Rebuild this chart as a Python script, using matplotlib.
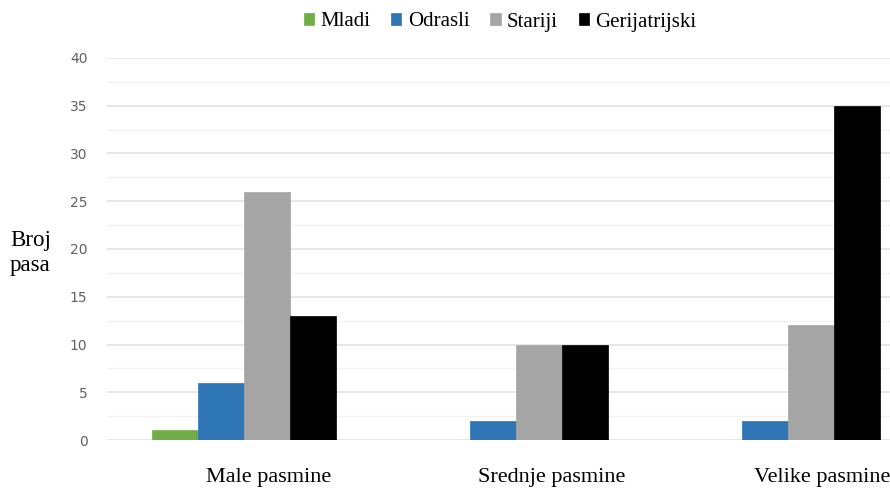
import matplotlib.pyplot as plt
import numpy as np

# podaci
kategorije = ['Male pasmine', 'Srednje pasmine', 'Velike pasmine']
serije = ['Mladi', 'Odrasli', 'Stariji', 'Gerijatrijski']
mladi = [1, 0, 0]
odrasli = [6, 2, 2]
stariji = [26, 10, 12]
gerijatrijski = [13, 10, 35]
boje = ['#70ad47', '#2e75b6', '#a5a5a5', '#000000']

vrijednosti = [mladi, odrasli, stariji, gerijatrijski]

fig = plt.figure(figsize=(8.9, 4.9), dpi=100)
ax = fig.add_axes([107 / 890, 50 / 490, 1 - 107 / 890, 382 / 490])

x = np.arange(len(kategorije))
w = 0.169
for i, (naziv, v) in enumerate(zip(serije, vrijednosti)):
    ax.bar(x + (i - 1.5) * w, v, width=w, color=boje[i], label=naziv,
           edgecolor=boje[i], linewidth=0.5, zorder=3)

ax.set_xlim(-0.504, 2.375)
ax.set_ylim(0, 40)
ax.set_yticks(np.arange(0, 41, 5))
ax.set_yticks(np.arange(0, 40, 2.5), minor=True)
ax.grid(axis='y', which='major', color='#e3e3e3', linewidth=1.2, zorder=0)
ax.grid(axis='y', which='minor', color='#f2f2f2', linewidth=1.0, zorder=0)
for s in ax.spines.values():
    s.set_visible(False)

ax.tick_params(axis='y', which='both', length=0, labelsize=10, labelcolor='#606060', pad=14)
ax.set_xticks([0.09, 1.13, 2.125])
ax.set_xticklabels(kategorije, family='Liberation Serif', fontsize=16)
ax.tick_params(axis='x', length=0, pad=20)

fig.text(10 / 890, 1 - 253 / 490, 'Broj\npasa', family='Liberation Serif',
         fontsize=16.5, ha='left', va='center', linespacing=1.25)

ax.legend(loc='center', bbox_to_anchor=(500 / 890, 1 - 22 / 490),
          bbox_transform=fig.transFigure, ncol=4, frameon=False,
          prop={'family': 'Liberation Serif', 'size': 15},
          handlelength=0.5, handleheight=0.5, handletextpad=0.3, columnspacing=1.0)

fig.savefig('out.png', dpi=100)
